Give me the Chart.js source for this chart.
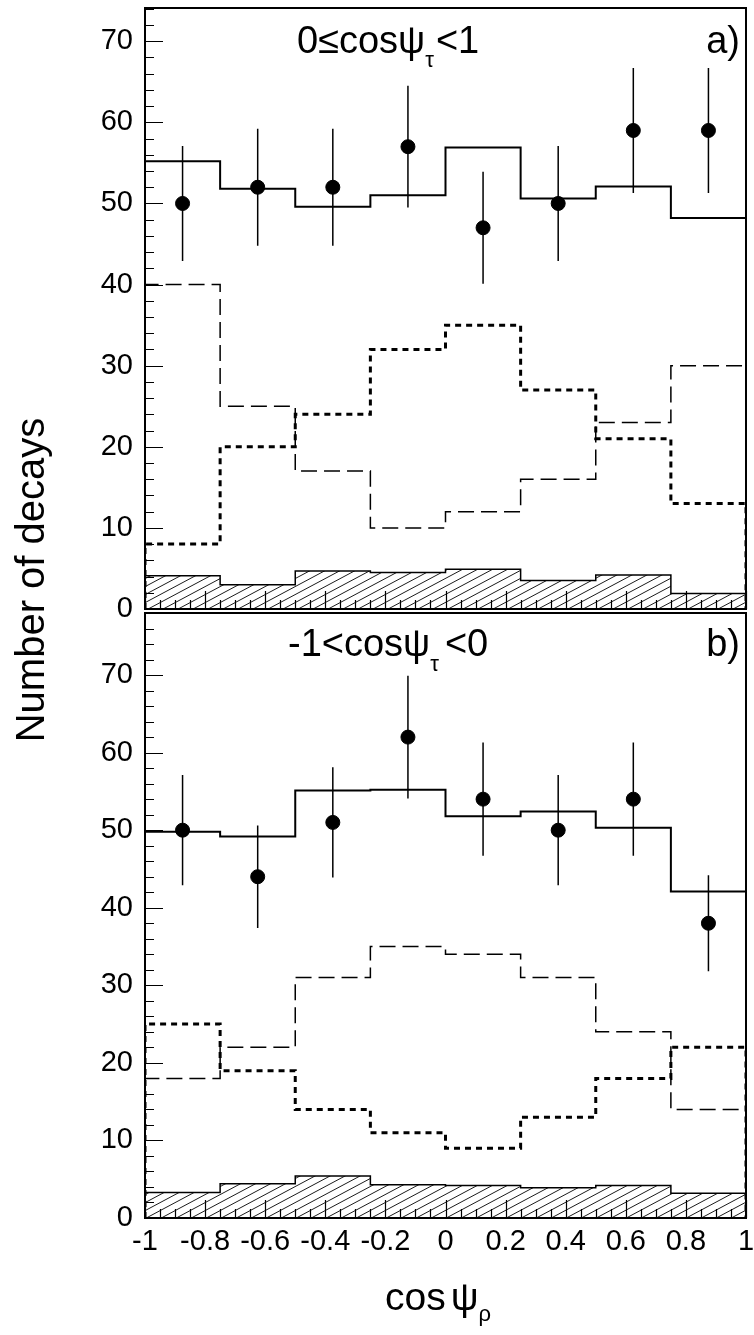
<!DOCTYPE html>
<html>
<head>
<meta charset="utf-8">
<script src="https://cdn.jsdelivr.net/npm/chart.js@4.4.1/dist/chart.umd.min.js"></script>
<style>
  html, body { margin: 0; padding: 0; background: #fff; }
  #wrap { position: relative; width: 754px; height: 1335px; }
  #wrap canvas { position: absolute; left: 0; top: 0; }
</style>
</head>
<body>
<div id="wrap">
  <canvas id="panelA" width="754" height="1335"></canvas>
  <canvas id="panelB" width="754" height="1335"></canvas>
</div>
<script>
/* Dos paneles apilados que comparten el eje x (cos psi_rho).
 * Cada panel: datos con error, MC total (sólida), dos componentes
 * (rayas / puntos) y el fondo rayado. */

const BIN_EDGES   = [-1, -0.75, -0.5, -0.25, 0, 0.25, 0.5, 0.75, 1];
const BIN_CENTERS = [-0.875, -0.625, -0.375, -0.125, 0.125, 0.375, 0.625, 0.875];
const X_TICKS = [-1, -0.8, -0.6, -0.4, -0.2, 0, 0.2, 0.4, 0.6, 0.8, 1];
const Y_TICKS = [0, 10, 20, 30, 40, 50, 60, 70];

/* a) 0 <= cos psi_tau < 1 */
const A_DATA   = [50, 52, 52, 57, 47, 50, 59, 59];
const A_ERR    = [7.1, 7.2, 7.2, 7.5, 6.9, 7.1, 7.7, 7.7];
const A_TOTAL  = [55.2, 51.8, 49.6, 51.0, 56.9, 50.6, 52.1, 48.2];
const A_DASHED = [40, 25, 17, 10, 12, 16, 23, 30];
const A_DOTTED = [8, 20, 24, 32, 35, 27, 21, 13];
const A_BKG    = [4.1, 3.0, 4.7, 4.5, 4.9, 3.5, 4.2, 1.9];
const A_YMAX   = 74.1;

/* b) -1 < cos psi_tau < 0 */
const B_DATA   = [50, 44, 51, 62, 54, 50, 54, 38];
const B_ERR    = [7.1, 6.6, 7.1, 7.9, 7.3, 7.1, 7.3, 6.2];
const B_TOTAL  = [49.8, 49.2, 55.1, 55.2, 51.8, 52.4, 50.3, 42.1];
const B_DASHED = [18, 22, 31, 35, 34, 31, 24, 14];
const B_DOTTED = [25, 19, 14, 11, 9, 13, 18, 22];
const B_BKG    = [3.3, 4.4, 5.4, 4.3, 4.2, 3.9, 4.2, 3.2];
const B_YMAX   = 78.0;

const FONT = '"Liberation Sans", Arial, Helvetica, sans-serif';
Chart.defaults.font.family = FONT;
Chart.defaults.color = '#000';

/* contorno del histograma: baja a 0 en los bordes, como en ROOT */
function histPoints(vals) {
  const n = vals.length;
  const pts = [{ x: BIN_EDGES[0], y: 0 }];
  vals.forEach((v, i) => pts.push({ x: BIN_EDGES[i], y: v }));
  pts.push({ x: BIN_EDGES[n], y: vals[n - 1] });
  pts.push({ x: BIN_EDGES[n], y: 0 });
  return pts;
}

/* barras de error verticales separadas por huecos (y:null) */
function errSegments(vals, errs) {
  const pts = [];
  vals.forEach((v, i) => {
    const c = BIN_CENTERS[i];
    pts.push({ x: c, y: v - errs[i] }, { x: c, y: v + errs[i] }, { x: c, y: null });
  });
  return pts;
}

function hatch() {
  const W = 15, H = 8;
  const t = document.createElement('canvas');
  t.width = W; t.height = H;
  const c = t.getContext('2d');
  c.strokeStyle = '#000';
  c.lineWidth = 0.9;
  c.beginPath();
  for (let j = -1; j <= 1; j++) {
    c.moveTo(-W, 2 * H + j * H);
    c.lineTo(2 * W, -H + j * H);
  }
  c.stroke();
  return c.createPattern(t, 'repeat');
}
const HATCH = hatch();

function datasets(data, err, total, dashed, dotted, bkg) {
  const base = { pointRadius: 0, fill: false, borderColor: '#000', spanGaps: false };
  return [
    {
      data: BIN_CENTERS.map((c, i) => ({ x: c, y: data[i] })),
      showLine: false, pointRadius: 7, pointHoverRadius: 7,
      pointBackgroundColor: '#000', pointBorderColor: '#000', pointBorderWidth: 1,
    },
    { ...base, data: errSegments(data, err), borderWidth: 1.5 },
    { ...base, data: histPoints(total), stepped: 'before', borderWidth: 2 },
    { ...base, data: histPoints(dashed), stepped: 'before', borderWidth: 1.5, borderDash: [16, 7] },
    { ...base, data: histPoints(dotted), stepped: 'before', borderWidth: 3, borderDash: [6, 5] },
    {
      ...base, data: histPoints(bkg), stepped: 'before', borderWidth: 1.5,
      fill: 'origin', backgroundColor: HATCH,
    },
  ];
}

/* marco + ticks interiores (mayores cada 10 / 0.2, menores cada 2 / 0.05) */
const frameTicks = {
  id: 'frameTicks',
  afterDatasetsDraw(chart) {
    const { ctx, chartArea: a, scales: { x, y } } = chart;
    ctx.save();
    ctx.strokeStyle = '#000';
    ctx.lineWidth = 1.2;
    ctx.beginPath();
    for (let v = 0; v <= y.max; v += 2) {
      const py = Math.round(y.getPixelForValue(v)) + 0.5;
      const len = v % 10 === 0 ? 18 : 9;
      ctx.moveTo(a.left, py); ctx.lineTo(a.left + len, py);
    }
    for (let i = 0; i <= 40; i++) {
      const px = Math.round(x.getPixelForValue(-1 + i * 0.05)) + 0.5;
      const len = i % 4 === 0 ? 18 : 9;
      ctx.moveTo(px, a.bottom); ctx.lineTo(px, a.bottom - len);
    }
    ctx.stroke();
    ctx.lineWidth = 2;
    ctx.strokeRect(a.left, a.top, a.width, a.height);
    ctx.restore();
  },
};

/* texto con subíndice: parts = [{t, size, dy, gap}] */
function drawRich(ctx, x, y, parts) {
  let cx = x;
  parts.forEach(p => {
    ctx.font = `${p.size}px ${FONT}`;
    ctx.fillText(p.t, cx, y + (p.dy || 0));
    cx += ctx.measureText(p.t).width + (p.gap || 0);
  });
}

const texts = {
  id: 'texts',
  afterDraw(chart, args, opts) {
    const ctx = chart.ctx;
    ctx.save();
    ctx.fillStyle = '#000';
    ctx.textBaseline = 'alphabetic';
    ctx.textAlign = 'left';
    drawRich(ctx, opts.x, opts.y, opts.parts);
    ctx.textAlign = 'right';
    ctx.font = `38px ${FONT}`;
    ctx.fillText(opts.tag, 740, opts.y);
    if (opts.axisTitles) {
      ctx.textAlign = 'left';
      drawRich(ctx, 385, 1310, [
        { t: 'cos', size: 39, gap: 5 },
        { t: 'ψ', size: 39 },
        { t: 'ρ', size: 22, dy: 11 },
      ]);
      ctx.translate(44, 580);
      ctx.rotate(-Math.PI / 2);
      ctx.textAlign = 'center';
      ctx.font = `40px ${FONT}`;
      ctx.fillText('Number of decays', 0, 0);
    }
    ctx.restore();
  },
};

function makePanel(id, ds, ymax, padding, showX, textOpts) {
  return new Chart(document.getElementById(id), {
    type: 'line',
    data: { datasets: ds },
    options: {
      responsive: false, animation: false, devicePixelRatio: 1,
      layout: { padding },
      plugins: { legend: { display: false }, tooltip: { enabled: false }, texts: textOpts },
      scales: {
        x: {
          type: 'linear', min: -1, max: 1, display: showX,
          grid: { display: false, drawTicks: false }, border: { display: false },
          afterBuildTicks: s => { s.ticks = X_TICKS.map(v => ({ value: v })); },
          afterFit: s => {
            s.height = showX ? 117 : 0;
            s.paddingLeft = 0; s.paddingRight = 0;
          },
          ticks: { font: { size: 29 }, padding: 7, maxRotation: 0, autoSkip: false,
                   callback: v => String(Math.round(v * 10) / 10) },
        },
        y: {
          type: 'linear', min: 0, max: ymax,
          grid: { display: false, drawTicks: false }, border: { display: false },
          afterBuildTicks: s => { s.ticks = Y_TICKS.map(v => ({ value: v })); },
          afterFit: s => {
            s.width = 145;
            s.paddingTop = 0; s.paddingBottom = 0;
          },
          ticks: { font: { size: 29 }, padding: 12 },
        },
      },
    },
    plugins: [frameTicks, texts],
  });
}

makePanel('panelA',
  datasets(A_DATA, A_ERR, A_TOTAL, A_DASHED, A_DOTTED, A_BKG), A_YMAX,
  { top: 5, right: 5, bottom: 1335 - 609, left: 0 }, false,
  { x: 297, y: 53, tag: 'a)',
    parts: [{ t: '0≤cosψ', size: 38 }, { t: 'τ', size: 22, dy: 14, gap: 2 }, { t: '<1', size: 38 }] });

makePanel('panelB',
  datasets(B_DATA, B_ERR, B_TOTAL, B_DASHED, B_DOTTED, B_BKG), B_YMAX,
  { top: 613, right: 5, bottom: 0, left: 0 }, true,
  { x: 288, y: 656, tag: 'b)', axisTitles: true,
    parts: [{ t: '-1<cosψ', size: 38 }, { t: 'τ', size: 22, dy: 15, gap: 6 }, { t: '<0', size: 38 }] });
</script>
</body>
</html>
